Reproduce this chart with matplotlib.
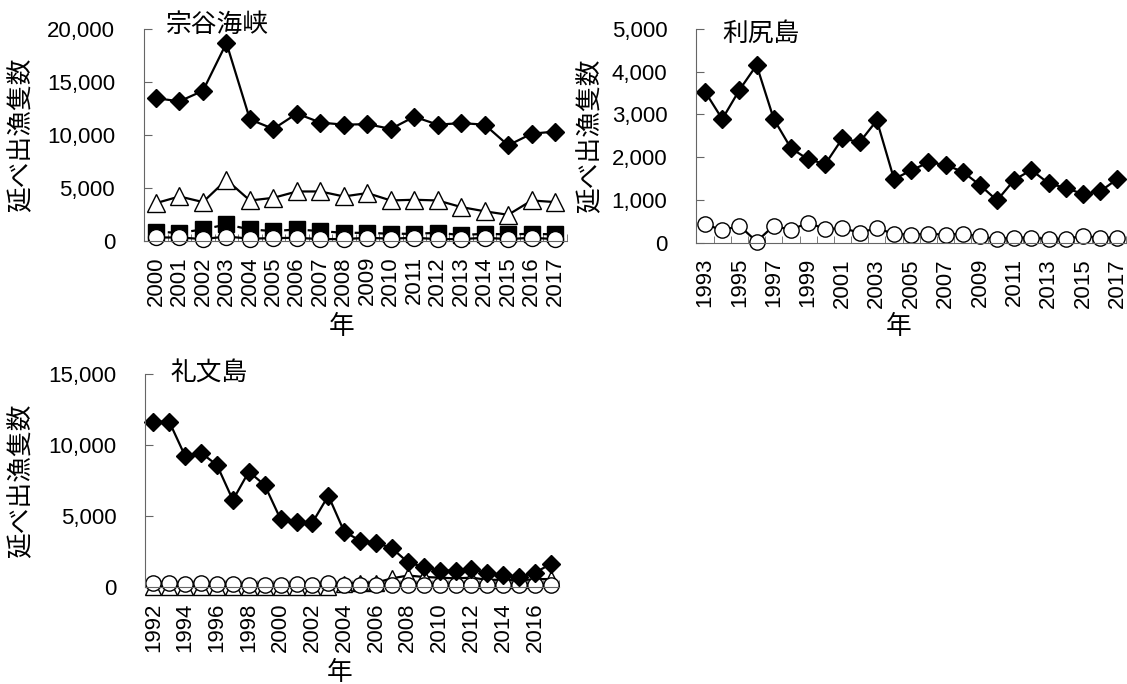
import matplotlib.pyplot as plt
from matplotlib.ticker import FuncFormatter

plt.rcParams['font.family'] = ['Liberation Sans', 'Noto Sans CJK JP']

# 宗谷海峡
soya_years = list(range(2000, 2018))
soya_diamond = [13450, 13150, 14150, 18650, 11450, 10550, 12000, 11150, 10950,
                11000, 10550, 11700, 10950, 11100, 10950, 9000, 10100, 10300]
soya_triangle = [3550, 4180, 3650, 5750, 3800, 4050, 4650, 4650, 4180,
                 4500, 3800, 3870, 3800, 3180, 2780, 2450, 3800, 3650]
soya_square = [850, 750, 1070, 1540, 1070, 910, 1070, 910, 750,
               750, 660, 660, 750, 540, 660, 600, 660, 600]
soya_circle = [310, 310, 160, 400, 200, 250, 280, 160, 160,
               280, 200, 280, 160, 160, 280, 160, 280, 160]

# 利尻島
rishiri_years = list(range(1993, 2018))
rishiri_diamond = [3530, 2890, 3570, 4150, 2890, 2210, 1950, 1840, 2440, 2350,
                   2860, 1490, 1690, 1880, 1820, 1660, 1350, 990, 1470, 1700,
                   1390, 1280, 1140, 1200, 1490]
rishiri_circle = [440, 290, 400, 30, 400, 300, 470, 320, 340, 240,
                  340, 210, 190, 210, 190, 210, 150, 90, 120, 120,
                  90, 90, 160, 120, 120]

# 礼文島
rebun_years = list(range(1992, 2018))
rebun_diamond = [11650, 11650, 9220, 9450, 8590, 6120, 8120, 7180, 4770, 4600,
                 4530, 6430, 3890, 3260, 3120, 2720, 1740, 1390, 1150, 1150,
                 1250, 960, 850, 680, 1010, 1620]
rebun_triangle = [0, 0, 0, 0, 0, 0, 0, 0, 0, 0,
                  0, 0, 200, 300, 300, 600, 800, 700, 650, 600,
                  650, 500, 500, 450, 550, 550]
rebun_circle = [250, 300, 200, 300, 200, 200, 150, 150, 150, 200,
                150, 250, 150, 150, 150, 150, 150, 150, 150, 150,
                150, 150, 150, 150, 150, 150]

JP = 'Noto Sans CJK JP'
SPINE = '#666666'


def setup_axis(ax, years, ymax, ystep, label_step, title, title_pos,
               ylab_x, xlab_pos):
    n = len(years)
    ax.set_xlim(-0.5, n - 0.5)
    ax.set_ylim(0, ymax)
    ax.set_yticks(range(0, ymax + 1, ystep))
    ax.yaxis.set_major_formatter(FuncFormatter(lambda v, p: f'{v:,.0f}'))

    # labels at every label_step-th year, tick marks on category boundaries
    idx = list(range(0, n, label_step))
    ax.set_xticks(idx)
    ax.set_xticklabels([str(years[i]) for i in idx], rotation=90)
    ax.set_xticks([i - 0.5 for i in range(n + 1)], minor=True)
    ax.tick_params(axis='x', which='major', length=0, pad=11, labelsize=16)
    ax.tick_params(axis='x', which='minor', direction='in', length=5,
                   color=SPINE)
    ax.tick_params(axis='y', direction='in', length=6, pad=21, labelsize=16,
                   color=SPINE)

    for side in ['top', 'right']:
        ax.spines[side].set_visible(False)
    for side in ['left', 'bottom']:
        ax.spines[side].set_color(SPINE)

    ax.set_ylabel('延べ出漁隻数', family=JP, fontsize=18.5)
    ax.yaxis.set_label_coords(ylab_x, 0.5)
    ax.yaxis.label.set_va('center')
    ax.set_xlabel('年', family=JP, fontsize=18.5)
    ax.xaxis.set_label_coords(*xlab_pos)
    ax.xaxis.label.set_va('center')
    ax.text(title_pos[0], title_pos[1], title, transform=ax.transAxes,
            family=JP, fontsize=18.5, va='center', ha='left')


def draw(ax, vals, marker, face, ms, ls='-'):
    ax.plot(range(len(vals)), vals, color='black', lw=1.6, ls=ls,
            marker=marker, ms=ms, mfc=face, mec='black', mew=1.0,
            clip_on=False)


fig = plt.figure(figsize=(11.27, 6.84), dpi=100)

ax1 = fig.add_axes([0.128, 0.648, 0.375, 0.310])
draw(ax1, soya_triangle, '^', 'white', 12.5)
draw(ax1, soya_square, 's', 'black', 12, ls='--')
draw(ax1, soya_circle, 'o', 'white', 11.5)
draw(ax1, soya_diamond, 'D', 'black', 9.5)
setup_axis(ax1, soya_years, 20000, 5000, 1, '宗谷海峡', (0.05, 1.02),
           -0.29, (0.466, -0.405))

ax2 = fig.add_axes([0.618, 0.645, 0.381, 0.313])
draw(ax2, rishiri_circle, 'o', 'white', 11)
draw(ax2, rishiri_diamond, 'D', 'black', 9)
setup_axis(ax2, rishiri_years, 5000, 1000, 2, '利尻島', (0.06, 0.975),
           -0.247, (0.47, -0.393))

ax3 = fig.add_axes([0.129, 0.142, 0.367, 0.311])
draw(ax3, rebun_triangle, '^', 'white', 11.5)
draw(ax3, rebun_circle, 'o', 'white', 11)
draw(ax3, rebun_diamond, 'D', 'black', 9)
setup_axis(ax3, rebun_years, 15000, 5000, 2, '礼文島', (0.06, 1.005),
           -0.30, (0.47, -0.404))

fig.savefig('out.png', dpi=100)
